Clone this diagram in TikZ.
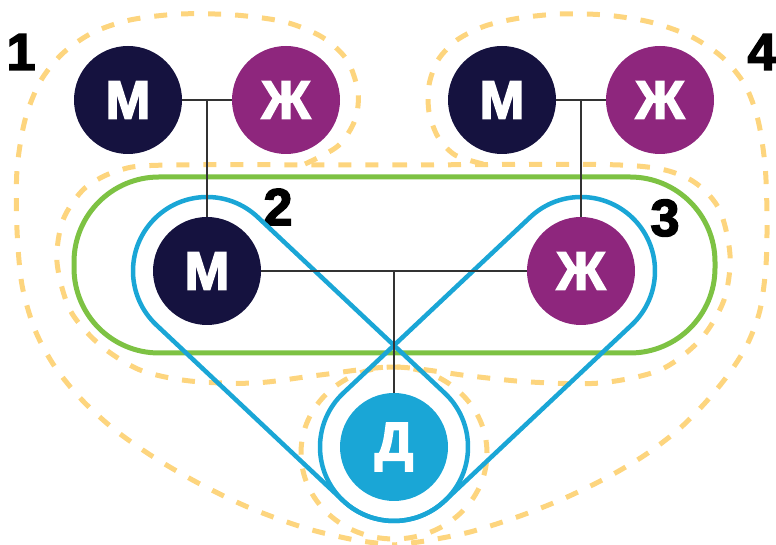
\documentclass[tikz,border=0pt]{standalone}
\usepackage{fontspec}
\setmainfont{Liberation Sans}
\newfontfamily\heavyfont[BoldFeatures={FakeBold=3}]{Liberation Sans}
\definecolor{mancol}{HTML}{15123F}
\definecolor{womancol}{HTML}{8E267D}
\definecolor{childcol}{HTML}{1AA6D6}
\definecolor{bondcol}{HTML}{7DC243}
\definecolor{kincol}{HTML}{FDD57E}
\definecolor{linecol}{HTML}{333333}
\begin{document}
\begin{tikzpicture}[x=1pt,y=1pt,
        every node/.style={inner sep=0pt},
        person/.style={circle,minimum size=108pt,text=white,font=\heavyfont\bfseries\fontsize{54}{54}\selectfont},
        man/.style={person,fill=mancol}, woman/.style={person,fill=womancol}, child/.style={person,fill=childcol},
        num/.style={font=\heavyfont\bfseries\fontsize{52}{52}\selectfont},
        kinline/.style={draw=kincol,line width=5pt,dash pattern=on 13pt off 14pt},
        bond/.style={draw=bondcol,line width=5pt},
        capsule/.style={draw=childcol,line width=4.5pt},
        tie/.style={draw=linecol,line width=1.2pt}]
    \useasboundingbox (0,0) rectangle (776,545);
    % dashed groups, in screen coordinates
    \begin{scope}[yshift=545pt,y=-1pt]
        \draw[kinline] plot[smooth] coordinates {(305,164) (338,146) (355,120) (358,92) (347,60) (322,37) (285,22) (235,15) (180,14) (130,20) (92,33) (62,54) (40,82) (25,120) (17,170) (17,230) (22,285) (35,330) (55,367) (82,400) (115,430) (155,458) (200,484) (250,508) (305,528) (355,540) (394,545)};
        \draw[kinline] plot[smooth] coordinates {(483,164) (455,155) (438,137) (429,112) (429,85) (438,60) (457,40) (485,26) (520,18) (560,14) (605,15) (650,22) (690,36) (722,57) (745,85) (758,120) (765,165) (767,215) (766,265) (760,310) (747,345) (728,375) (705,403) (678,430) (645,455) (608,477) (565,498) (520,516) (470,532) (425,541) (394,545)};
        \draw[kinline] plot[smooth cycle] coordinates {(170,165) (394,165) (620,165) (685,177) (718,207) (730,255) (724,300) (700,340) (660,370) (600,383) (530,382) (470,376) (394,367) (320,375) (255,383) (190,381) (140,370) (100,345) (70,310) (57,262) (63,220) (85,188) (120,170)};
    \end{scope}
    \draw[kinline] (394,92) ellipse [x radius=93,y radius=86];
    \draw[bond,rounded corners=85pt] (74,192) rectangle (715,368);

    \node[man] (m1) at (128,445) {М};
    \node[woman] (zh1) at (286,445) {Ж};
    \node[man] (m4) at (502,445) {М};
    \node[woman] (zh4) at (660,445) {Ж};
    \node[man] (m2) at (207,274) {М};
    \node[woman] (zh2) at (581,274) {Ж};
    \node[child] (d) at (394,98) {Д};

    \node[num] (n1) at (21,493) {1};
    \node[num] (n2) at (278,338) {2};
    \node[num] (n3) at (665,327) {3};
    \node[num] (n4) at (762,493) {4};

    % parent and child groups
    \begin{scope}[shift={(m2)},rotate=-43.26]
        \draw[capsule] (0,74) -- (256.8,74) arc[start angle=90,end angle=-90,radius=74] -- (0,-74) arc[start angle=270,end angle=90,radius=74] -- cycle;
    \end{scope}
    \begin{scope}[shift={(zh2)},rotate=-136.74]
        \draw[capsule] (0,74) -- (256.8,74) arc[start angle=90,end angle=-90,radius=74] -- (0,-74) arc[start angle=270,end angle=90,radius=74] -- cycle;
    \end{scope}

    \draw[tie] (m1) -- (zh1);
    \draw[tie] (m2) -- (m2 |- m1);
    \draw[tie] (m4) -- (zh4);
    \draw[tie] (zh2) -- (zh2 |- m4);
    \draw[tie] (m2) -- (zh2);
    \draw[tie] (d) -- (d |- m2);
\end{tikzpicture}
\end{document}
